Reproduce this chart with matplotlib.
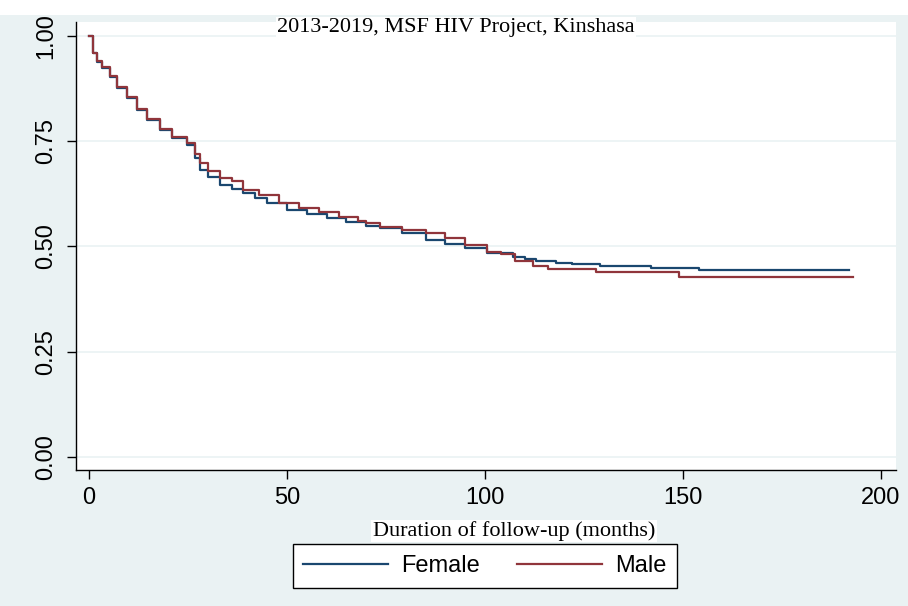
import matplotlib
matplotlib.use("Agg")
import matplotlib.pyplot as plt
from matplotlib.patches import Rectangle
from matplotlib.lines import Line2D

# ---- data ----
female_t = [0, 1, 2, 3.3, 5.3, 7, 9.6, 12, 14.6, 18, 21, 24.7, 26.8, 28, 30, 33, 36,
            39, 42, 45, 50, 55, 60, 65, 70, 73.5, 79, 85, 90, 95, 100.5, 107, 110,
            113, 118, 122, 129, 142, 154, 192]
female_s = [1.0, 0.96, 0.938, 0.924, 0.903, 0.876, 0.853, 0.824, 0.80, 0.777, 0.758,
            0.741, 0.71, 0.682, 0.665, 0.646, 0.636, 0.627, 0.615, 0.603, 0.587, 0.577,
            0.568, 0.558, 0.549, 0.544, 0.532, 0.515, 0.506, 0.496, 0.485, 0.475, 0.47,
            0.466, 0.461, 0.458, 0.454, 0.449, 0.444, 0.444]

male_t = [0, 1, 2, 3.3, 5.3, 7, 9.6, 12, 14.6, 18, 21, 24.7, 26.8, 28, 30, 33, 36, 39,
          43, 48, 53, 58, 63, 68, 70, 73.5, 79, 85, 90, 95, 100.5, 104, 107.6, 112, 116,
          128, 149, 193]
male_s = [1.0, 0.96, 0.94, 0.926, 0.905, 0.878, 0.855, 0.826, 0.802, 0.779, 0.76, 0.745,
          0.72, 0.698, 0.68, 0.663, 0.655, 0.634, 0.622, 0.603, 0.591, 0.582, 0.57, 0.561,
          0.556, 0.546, 0.539, 0.532, 0.52, 0.504, 0.487, 0.482, 0.465, 0.454, 0.446,
          0.44, 0.428, 0.428]

series_labels = ["Female", "Male"]
x_ticks = [0, 50, 100, 150, 200]
y_ticks = [0.0, 0.25, 0.5, 0.75, 1.0]
y_ticklabels = ["0.00", "0.25", "0.50", "0.75", "1.00"]
title = "2013-2019, MSF HIV Project, Kinshasa"
xlabel = "Duration of follow-up (months)"

# ---- style ----
BG = "#EAF2F3"
C_F = "#1a476f"
C_M = "#90353b"
W, H = 908, 606

fig = plt.figure(figsize=(W / 100, H / 100), dpi=100)
fig.patch.set_facecolor(BG)

ax = fig.add_axes([76 / W, 1 - 470 / H, 820 / W, 448 / H])
ax.set_facecolor("white")

ax.plot(female_t, female_s, drawstyle="steps-post", color=C_F, lw=1.6, zorder=3)
ax.plot(male_t, male_s, drawstyle="steps-post", color=C_M, lw=1.6, zorder=4)

ax.set_xlim(-3.3, 203.8)
ax.set_ylim(-0.031, 1.033)
ax.set_xticks(x_ticks)
ax.set_yticks(y_ticks)
ax.set_yticklabels(y_ticklabels)

for s in ["top", "right"]:
    ax.spines[s].set_visible(False)
for s in ["left", "bottom"]:
    ax.spines[s].set_color("black")
    ax.spines[s].set_linewidth(1.0)

ax.grid(axis="y", color=BG, lw=1.2, zorder=0)
ax.set_axisbelow(True)

ax.tick_params(axis="both", direction="out", length=6.5, width=1, color="black",
               labelsize=17)
ax.tick_params(axis="y", labelrotation=90, pad=7)
ax.tick_params(axis="x", pad=6)
for lab in ax.get_yticklabels():
    lab.set_fontfamily("Liberation Sans")
    lab.set_va("center")
for lab in ax.get_xticklabels():
    lab.set_fontfamily("Liberation Sans")

# white strip at top of the image (crop)
fig.add_artist(Rectangle((0, 1 - 15 / H), 1, 15 / H, transform=fig.transFigure,
                         facecolor="white", edgecolor="none", zorder=5))

# title (partly cut at top)
fig.text(456 / W, 1 - 32 / H, title, ha="center", va="baseline",
         fontsize=16, family="Liberation Serif", zorder=6,
         bbox=dict(facecolor="white", edgecolor="none", pad=1))

# x label
fig.text(514 / W, 1 - 536 / H, xlabel, ha="center", va="baseline",
         fontsize=16, family="Liberation Serif",
         bbox=dict(facecolor="white", edgecolor="none", pad=1))

handles = [Line2D([], [], color=C_F, lw=1.6), Line2D([], [], color=C_M, lw=1.6)]
leg = fig.legend(handles, series_labels, ncol=2, loc="center",
                 bbox_to_anchor=(485 / W, 1 - 566 / H), frameon=True,
                 fancybox=False, edgecolor="black", facecolor="white",
                 framealpha=1, prop={"family": "Liberation Sans", "size": 17},
                 handlelength=3.6, handletextpad=0.55, columnspacing=1.57,
                 borderpad=0.45, borderaxespad=0)
leg.get_frame().set_linewidth(1.0)

fig.savefig("out.png", dpi=100, facecolor=fig.get_facecolor())
